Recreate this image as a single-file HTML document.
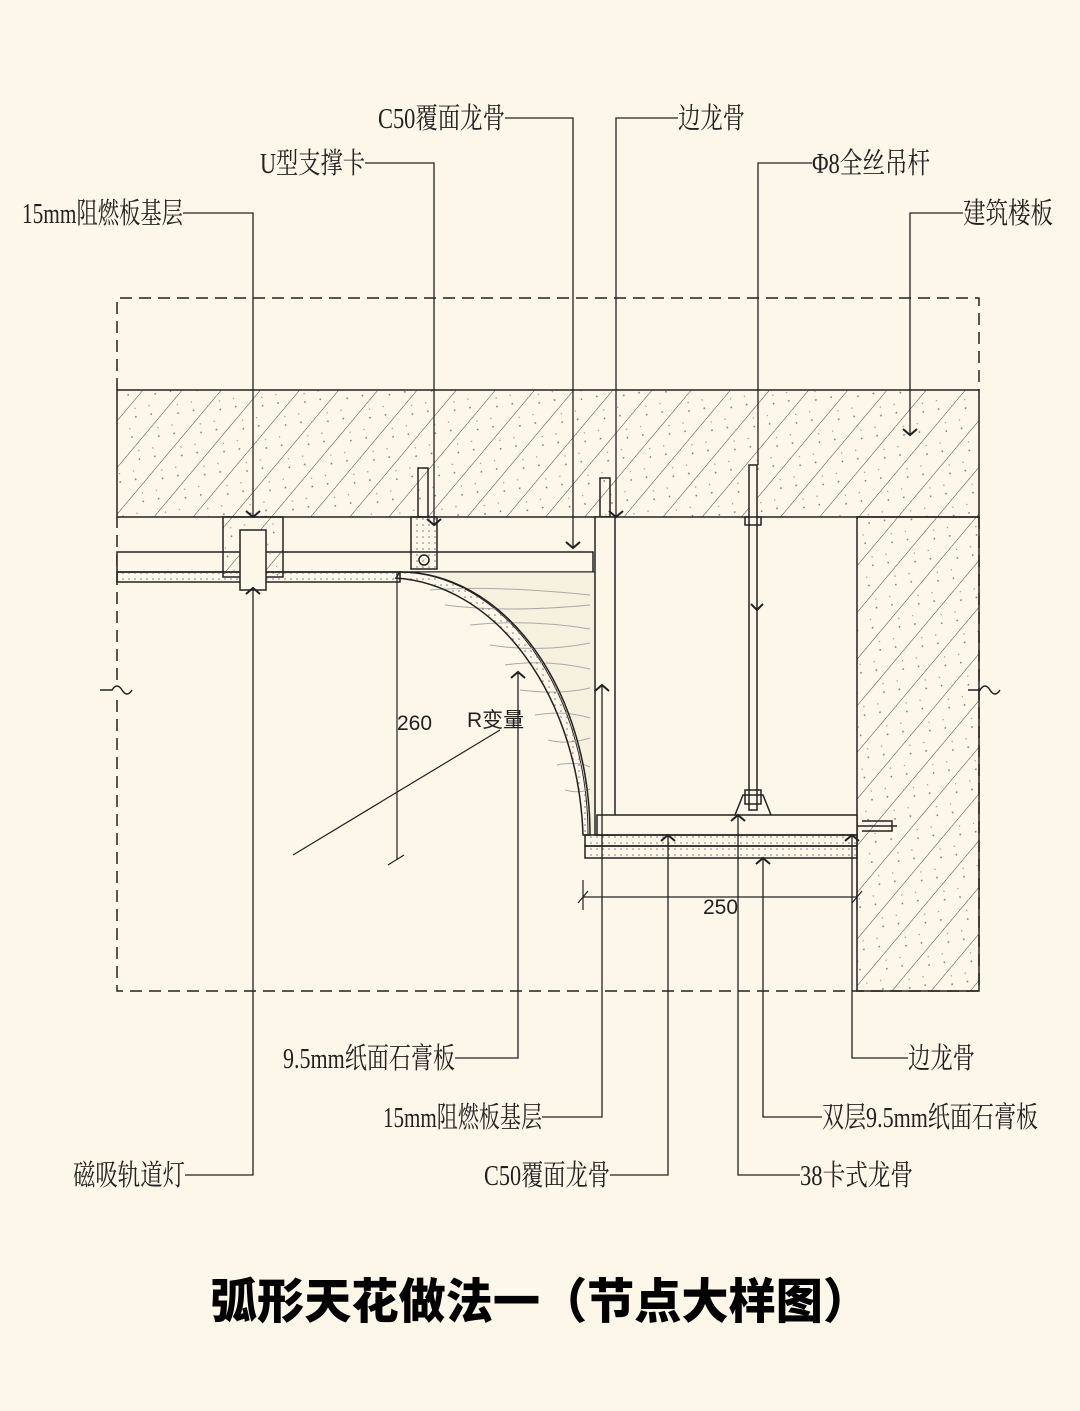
<!DOCTYPE html>
<html><head><meta charset="utf-8"><style>
html,body{margin:0;padding:0;background:#fcf7e9;}
svg{display:block}
.t{font-family:"Liberation Serif","Noto Serif CJK SC",serif;font-size:29px;fill:#222;}
</style></head><body>
<svg width="1080" height="1411" viewBox="0 0 1080 1411" xmlns="http://www.w3.org/2000/svg">
<defs>
<pattern id="h" width="30" height="30" patternUnits="userSpaceOnUse" patternTransform="rotate(-50)">
<line x1="0" y1="0" x2="30" y2="0" stroke="#444" stroke-width="1.1"/>
<circle cx="8" cy="12" r="0.9" fill="#777"/><circle cx="20" cy="22" r="0.9" fill="#777"/><circle cx="14" cy="6" r="0.7" fill="#999"/><circle cx="25" cy="15" r="0.7" fill="#999"/>
</pattern>
<pattern id="d" width="6" height="6" patternUnits="userSpaceOnUse"><circle cx="3" cy="3" r="0.8" fill="#777"/></pattern>
</defs>
<rect width="1080" height="1411" fill="#fcf7e9"/>
<g fill="none" stroke="#222" stroke-width="1.5">
<path d="M117 390 V298 H979 V390 M979 517 V991 H117 V700 M117 680 V517" stroke-dasharray="12 7"/>
<path d="M100 690 h12 q5 -8 10 0 q5 8 10 0 M968 690 h12 q5 -8 10 0 q5 8 10 0"/>
<rect x="117" y="390" width="862" height="127" fill="url(#h)"/>
<rect x="857" y="517" width="122" height="474" fill="url(#h)"/>
<rect x="117" y="552" width="476" height="20" fill="#fcf7e9"/>
<rect x="117" y="572" width="283" height="10" fill="url(#d)"/>
<rect x="223" y="517" width="60" height="60" fill="url(#h)"/>
<rect x="240" y="530" width="26" height="60" fill="#fcf7e9"/>
<rect x="411" y="517" width="26" height="52" fill="url(#d)"/>
<circle cx="424" cy="560" r="5"/>
<rect x="418" y="468" width="10" height="49"/>
<rect x="600" y="478" width="10" height="39"/>
<path d="M400 572 H597 V835 H588 A190 263 0 0 0 400 572Z" fill="#f6f0df" stroke-width="1"/>
<g stroke="#aaa" stroke-width="1">
<path d="M430 590 q60 -5 160 5 M445 605 q60 8 145 0 M470 625 q60 -6 120 4 M490 645 q50 8 100 -2 M505 665 q40 -6 85 4 M520 690 q40 5 70 -2 M535 715 q30 -5 55 3 M548 740 q20 5 42 -2 M557 765 q20 -4 33 2 M565 790 q15 4 25 -1"/>
</g>
<path d="M400 572 A190 263 0 0 1 590 835 L583 835 A197 270 0 0 0 396 578Z" fill="url(#d)"/>
<rect x="595" y="517" width="20" height="318" fill="#fcf7e9"/>
<rect x="749" y="465" width="8" height="345" fill="#fcf7e9"/>
<rect x="745" y="517" width="16" height="8"/>
<path d="M735 815 l8 -20 h20 l8 20" />
<rect x="745" y="790" width="16" height="14"/>
<rect x="597" y="815" width="260" height="20" fill="#fcf7e9"/>
<rect x="585" y="835" width="272" height="11" fill="url(#d)"/>
<rect x="585" y="846" width="272" height="12" fill="url(#d)"/>
<path d="M857 826 h40 M862 821 h30 v10 h-30"/>
<path d="M397 572 V860 M388 865 l16 -10 M583 897 H857 M583 880 V910 M578 903 l10 -12 M852 903 l10 -12 M857 858 V910" stroke-width="1.2"/>
<path d="M293 855 L500 730" stroke-width="1.2"/>
<g stroke-width="1.3">
<path d="M505 118 H573 V548"/>
<path d="M678 118 H616 V517"/>
<path d="M365 163 H434 V525"/>
<path d="M183 213 H253 V517"/>
<path d="M812 163 H758 V465"/>
<path d="M963 213 H910 V435"/>
<path d="M455 1058 H518 V672"/>
<path d="M542 1117 H602 V685"/>
<path d="M185 1175 H253 V588"/>
<path d="M610 1175 H668 V835"/>
<path d="M908 1058 H852 V835"/>
<path d="M822 1117 H763 V858"/>
<path d="M800 1175 H738 V815"/>
</g>
<g stroke-width="2">
<path d="M566 542 l7 6 l7 -6 M609 511 l7 6 l7 -6 M427 519 l7 6 l7 -6 M246 511 l7 6 l7 -6 M903 429 l7 6 l7 -6 M751 604 l6 6 l6 -6"/>
<path d="M511 678 l7 -6 l7 6 M595 691 l7 -6 l7 6 M246 594 l7 -6 l7 6 M661 841 l7 -6 l7 6 M845 841 l7 -6 l7 6 M756 864 l7 -6 l7 6 M731 821 l7 -6 l7 6"/>
</g>
</g>
<g class="t">
<text x="378" y="128" textLength="127" lengthAdjust="spacingAndGlyphs">C50覆面龙骨</text>
<text x="678" y="128" textLength="67" lengthAdjust="spacingAndGlyphs">边龙骨</text>
<text x="260" y="173" textLength="105" lengthAdjust="spacingAndGlyphs">U型支撑卡</text>
<text x="22" y="223" textLength="161" lengthAdjust="spacingAndGlyphs">15mm阻燃板基层</text>
<text x="812" y="173" textLength="118" lengthAdjust="spacingAndGlyphs">Φ8全丝吊杆</text>
<text x="963" y="223" textLength="90" lengthAdjust="spacingAndGlyphs">建筑楼板</text>
<text x="283" y="1068" textLength="172" lengthAdjust="spacingAndGlyphs">9.5mm纸面石膏板</text>
<text x="383" y="1127" textLength="159" lengthAdjust="spacingAndGlyphs">15mm阻燃板基层</text>
<text x="73" y="1185" textLength="112" lengthAdjust="spacingAndGlyphs">磁吸轨道灯</text>
<text x="484" y="1185" textLength="126" lengthAdjust="spacingAndGlyphs">C50覆面龙骨</text>
<text x="908" y="1068" textLength="67" lengthAdjust="spacingAndGlyphs">边龙骨</text>
<text x="822" y="1127" textLength="216" lengthAdjust="spacingAndGlyphs">双层9.5mm纸面石膏板</text>
<text x="800" y="1185" textLength="113" lengthAdjust="spacingAndGlyphs">38卡式龙骨</text>
</g>
<g font-family="Liberation Sans, Noto Sans CJK SC, sans-serif" font-size="21" fill="#222">
<text x="397" y="730">260</text>
<text x="467" y="727">R变量</text>
<text x="703" y="914">250</text>
</g>
<text x="540" y="1318" text-anchor="middle" font-family="Liberation Sans, Noto Sans CJK SC, sans-serif" font-weight="900" font-size="48" textLength="660" lengthAdjust="spacingAndGlyphs" fill="#000">弧形天花做法一（节点大样图）</text>
</svg>
</body></html>
